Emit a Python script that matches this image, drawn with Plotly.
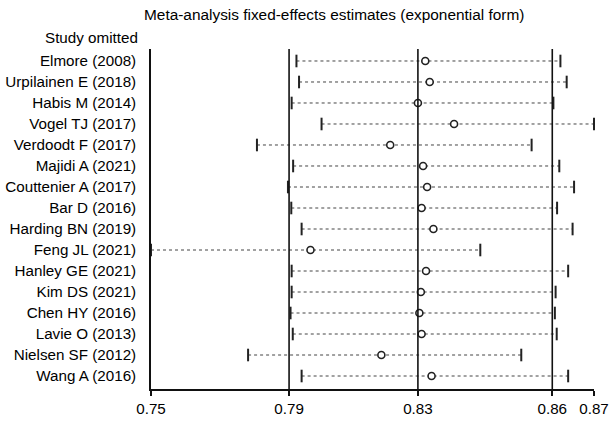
import plotly.graph_objects as go

studies = ["Elmore (2008)", "Urpilainen E (2018)", "Habis M (2014)", "Vogel TJ (2017)",
           "Verdoodt F (2017)", "Majidi A (2021)", "Couttenier A (2017)", "Bar D (2016)",
           "Harding BN (2019)", "Feng JL (2021)", "Hanley GE (2021)", "Kim DS (2021)",
           "Chen HY (2016)", "Lavie O (2013)", "Nielsen SF (2012)", "Wang A (2016)"]
lower = [0.7943, 0.7950, 0.7930, 0.8011, 0.7836, 0.7934, 0.7920, 0.7929,
         0.7957, 0.7549, 0.7930, 0.7930, 0.7927, 0.7933, 0.7812, 0.7957]
estimate = [0.8292, 0.8304, 0.8272, 0.8370, 0.8197, 0.8286, 0.8297, 0.8282,
            0.8314, 0.7981, 0.8294, 0.8280, 0.8276, 0.8282, 0.8173, 0.8309]
upper = [0.8658, 0.8675, 0.8639, 0.8749, 0.8580, 0.8655, 0.8695, 0.8649,
         0.8691, 0.8441, 0.8679, 0.8645, 0.8643, 0.8648, 0.8552, 0.8679]

# axis ticks: min lower, overall lower, overall estimate, overall upper, max upper
tick_values = [0.7549, 0.7923, 0.8272, 0.8636, 0.8749]
tick_labels = ["0.75", "0.79", "0.83", "0.86", "0.87"]
ref_lines = tick_values[1:4]

title_text = "Meta-analysis fixed-effects estimates (exponential form)"
header_text = "Study omitted"

n = len(studies)
ypos = list(range(n))

fig = go.Figure()

# dotted CI lines
lx, ly = [], []
for i in range(n):
    lx += [lower[i], upper[i], None]
    ly += [ypos[i], ypos[i], None]
fig.add_trace(go.Scatter(x=lx, y=ly, mode="lines",
                         line=dict(color="#444444", width=1, dash="dot"),
                         hoverinfo="skip", showlegend=False, cliponaxis=False))

# end caps
fig.add_trace(go.Scatter(x=lower + upper, y=ypos + ypos, mode="markers",
                         marker=dict(symbol="line-ns", size=9,
                                     line=dict(color="#222222", width=2)),
                         hoverinfo="skip", showlegend=False, cliponaxis=False))

# reference vertical lines
for v in ref_lines:
    fig.add_shape(type="line", xref="x", yref="paper", x0=v, x1=v, y0=0, y1=1,
                  line=dict(color="#111111", width=1.6), layer="above")

# estimates
fig.add_trace(go.Scatter(x=estimate, y=ypos, mode="markers",
                         marker=dict(symbol="circle", size=7, color="white",
                                     line=dict(color="#222222", width=1.6)),
                         showlegend=False, cliponaxis=False))

font_family = "Liberation Sans, Arial, Helvetica, sans-serif"
fs = 15.2

fig.update_layout(
    width=613, height=423,
    margin=dict(l=151, r=19, t=49, b=34, autoexpand=False),
    paper_bgcolor="white", plot_bgcolor="white",
    font=dict(family=font_family, size=fs, color="black"),
    xaxis=dict(range=[tick_values[0], tick_values[-1]], showgrid=False, zeroline=False,
               showline=True, linecolor="#111111", linewidth=1.6, automargin=False,
               ticks="outside", ticklen=5, tickwidth=1.6, tickcolor="#111111",
               tickvals=tick_values, ticktext=tick_labels,
               tickfont=dict(size=fs, color="black")),
    yaxis=dict(range=[15.619, -0.571], showgrid=False, zeroline=False,
               showline=True, linecolor="#111111", linewidth=1.6, automargin=False,
               tickvals=ypos, ticktext=studies, ticks="",
               ticklabelstandoff=10,
               tickfont=dict(size=fs, color="black")),
    annotations=[
        dict(text=title_text, xref="paper", yref="paper", x=0.414, y=1.1,
             xanchor="center", yanchor="middle", showarrow=False,
             font=dict(size=15.4, color="black")),
        dict(text=header_text, xref="paper", yref="paper", x=0, y=1.0324,
             xanchor="right", yanchor="middle", xshift=-11, showarrow=False,
             font=dict(size=fs, color="black")),
    ],
)

fig.write_html("out.html")
